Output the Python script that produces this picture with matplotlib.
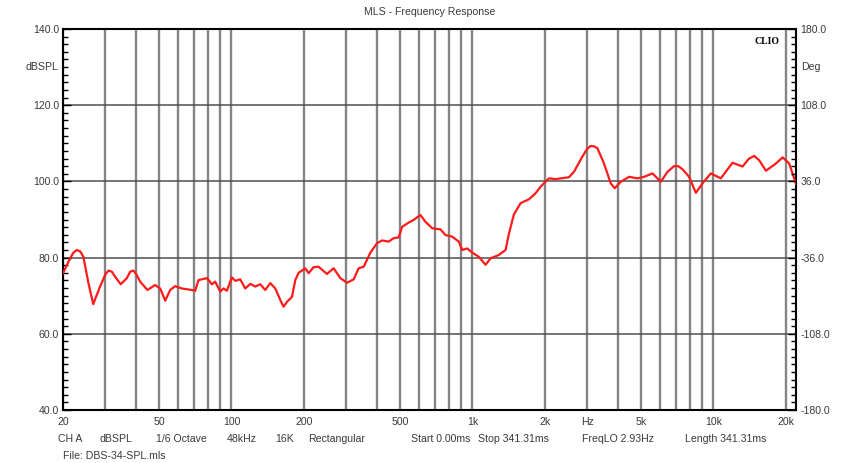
import matplotlib
matplotlib.use("Agg")
import matplotlib.pyplot as plt
from matplotlib.ticker import FixedLocator, NullFormatter

plt.rcParams['font.family'] = ['Liberation Sans', 'DejaVu Sans']

# ---- data ----
freq_hz = [20, 21.4, 22.1, 22.8, 23.6, 24.3, 25.5, 26.7, 28.5, 30.0, 30.9, 31.9, 32.9,
           34.7, 36.8, 38.0, 39.2, 40.4,
           41.8, 44.8, 48.2, 50.6, 53.1, 55.7, 58.4, 62.2, 68.5, 70.7, 73.0, 79.1,
           83.0, 85.6, 89.8, 92.7, 95.7, 100.4, 103.7, 108.7, 114.1, 119.7, 125.5,
           131.7, 138.1, 144.9, 152.0, 159.4, 164.5, 170, 178.3, 184, 189.9, 202.5,
           209, 219.3, 230, 249, 265.5, 283, 301.9, 321.6, 337, 353.8, 377, 402,
           421.8, 449, 471, 494, 510.8, 544, 570.6, 608, 638, 680.6, 737, 772.8,
           824, 877.6, 906.6, 951, 997.8, 1063, 1133, 1189, 1287, 1372, 1416, 1485,
           1584, 1715, 1828, 1917, 2076, 2214, 2514, 2636, 2857, 2990, 3094, 3200, 3300, 3514,
           3746, 3892, 4122, 4465, 4836, 5152, 5582, 6044, 6444, 6864, 7150, 7436, 7922,
           8450, 9008, 9750, 10726, 11998, 13204, 14000, 14756, 15500, 16502, 18000,
           19360, 20620, 22000]
spl_db = [75.9, 79.8, 81.3, 82.0, 81.6, 80.2, 73.3, 67.8, 72.4, 75.6, 76.6, 76.3, 75.0,
          73.0, 74.6, 76.3, 76.6, 75.5,
          73.7, 71.5, 72.8, 71.9, 68.7, 71.5, 72.5, 71.9, 71.5, 71.3, 74.1, 74.6,
          73.0, 73.7, 71.1, 71.9, 71.3, 74.8, 73.9, 74.3, 71.9, 73.1, 72.4,
          73.0, 71.5, 73.3, 71.9, 68.9, 67.1, 68.4, 69.7, 74.1, 76.0, 77.2,
          75.9, 77.5, 77.6, 75.7, 77.2, 74.6, 73.4, 74.3, 77.2, 77.6, 81.3, 83.8,
          84.5, 84.2, 85.1, 85.3, 88.1, 89.2, 89.9, 91.2, 89.4, 87.7, 87.4, 85.9,
          85.5, 84.2, 82.0, 82.4, 81.3, 80.2, 78.1, 79.8, 80.7, 82.0, 86.2, 91.3,
          94.3, 95.3, 96.9, 98.6, 100.8, 100.6, 101.1, 102.5, 106.5, 108.5, 109.3, 109.2, 108.7, 104.7,
          99.5, 98.2, 99.9, 101.2, 100.8, 101.2, 102.1, 99.9, 102.5, 104.0, 104.0, 103.2, 101.2,
          97.0, 99.5, 102.1, 100.8, 104.9, 103.9, 105.9, 106.7, 105.5, 102.8, 104.5,
          106.3, 104.7, 99.3]

x_tick_values = [20, 50, 100, 200, 500, 1000, 2000, 3000, 5000, 10000, 20000]
x_tick_labels = ["20", "50", "100", "200", "500", "1k", "2k", "Hz", "5k", "10k", "20k"]
left_ticks = [40, 60, 80, 100, 120, 140]
right_ticks = [-180, -108, -36, 36, 108, 180]

title = "MLS - Frequency Response"
info_items = ["CH A", "dBSPL", "1/6 Octave", "48kHz", "16K", "Rectangular",
              "Start 0.00ms", "Stop 341.31ms", "FreqLO 2.93Hz", "Length 341.31ms"]
file_text = "File: DBS-34-SPL.mls"

# ---- figure ----
W, H = 844, 463
fig = plt.figure(figsize=(W / 100, H / 100), dpi=100)
L, R, T, B = 63, 796, 29, 410
ax = fig.add_axes([L / W, 1 - B / H, (R - L) / W, (B - T) / H])

txt_col = '#3a3a3a'
fs = 7.6

ax.set_xscale('log')
ax.set_xlim(20, 22000)
ax.set_ylim(40, 140)

# vertical grid at every 1-2-3..9 decade step
minor_x = []
for dec in [10, 100, 1000, 10000]:
    for m in range(1, 10):
        v = m * dec
        if 20 < v <= 22000 and v not in x_tick_values:
            minor_x.append(v)
ax.xaxis.set_major_locator(FixedLocator(x_tick_values))
ax.xaxis.set_minor_locator(FixedLocator(minor_x))
ax.xaxis.set_minor_formatter(NullFormatter())
ax.set_xticklabels(x_tick_labels)
ax.tick_params(axis='x', which='both', length=0, pad=5, labelsize=fs, labelcolor=txt_col)
ax.grid(True, axis='x', which='both', color='#858585', lw=1.7)

ax.yaxis.set_major_locator(FixedLocator(left_ticks))
ax.yaxis.set_minor_locator(FixedLocator(list(range(40, 141, 2))))
ax.set_yticklabels([f"{v:.1f}" for v in left_ticks])
ax.tick_params(axis='y', which='major', direction='in', length=6, width=1,
               pad=3, labelsize=fs, labelcolor=txt_col)
ax.tick_params(axis='y', which='minor', direction='in', length=3.5, width=1)
ax.grid(True, axis='y', which='major', color='#505050', lw=1.1)

ax.plot(freq_hz, spl_db, color='#ff1a1a', lw=1.6, zorder=5,
        solid_joinstyle='round')

for s in ax.spines.values():
    s.set_color('black')
    s.set_linewidth(1.5)

ax2 = ax.twinx()
ax2.set_ylim(-180, 180)
ax2.yaxis.set_major_locator(FixedLocator(right_ticks))
ax2.yaxis.set_minor_locator(FixedLocator([-180 + 7.2 * i for i in range(51)]))
ax2.set_yticklabels([f"{v:.1f}" for v in right_ticks])
ax2.tick_params(axis='y', which='major', direction='in', length=6, width=1,
                pad=3, labelsize=fs, labelcolor=txt_col)
ax2.tick_params(axis='y', which='minor', direction='in', length=3.5, width=1)
for s in ax2.spines.values():
    s.set_visible(False)

# axis unit labels
fig.text((L - 5) / W, 1 - 67 / H, "dBSPL", ha='right', va='center', fontsize=fs, color=txt_col)
fig.text((R + 5) / W, 1 - 67 / H, "Deg", ha='left', va='center', fontsize=fs, color=txt_col)

fig.text(430 / W, 1 - 12 / H, title, ha='center', va='center', fontsize=fs, color=txt_col)
ax.text(0.978, 0.978, "CLIO", transform=ax.transAxes, ha='right', va='top',
        fontsize=7, fontweight='bold', family=['Liberation Serif', 'DejaVu Serif'], color='black')

info_x = [58, 100, 156, 227, 275, 308, 411, 478, 582, 685]
for xi, s in zip(info_x, info_items):
    fig.text(xi / W, 1 - 439 / H, s, ha='left', va='center', fontsize=fs, color=txt_col)
fig.text(63 / W, 1 - 456 / H, file_text, ha='left', va='center', fontsize=fs, color=txt_col)

fig.savefig("out.png", dpi=100)
